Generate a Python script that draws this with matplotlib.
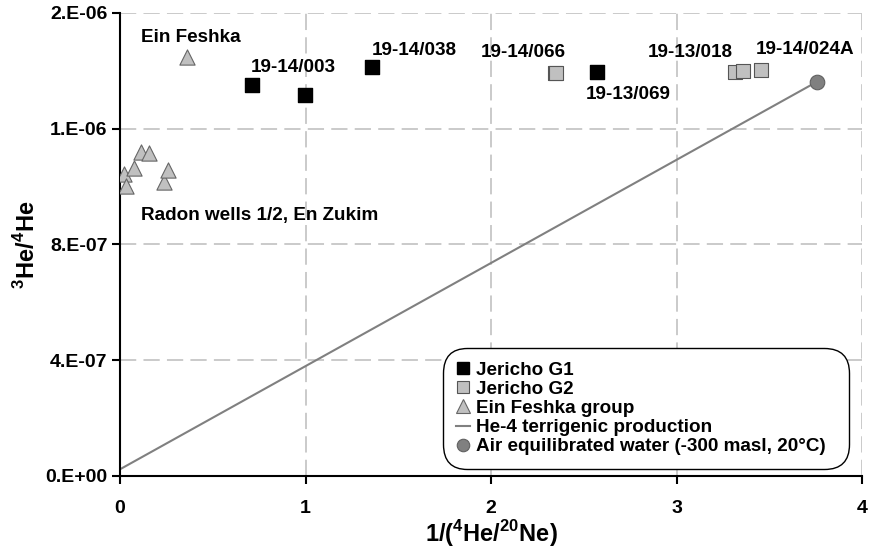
import matplotlib
matplotlib.use("Agg")
import matplotlib.pyplot as plt
from matplotlib.ticker import FuncFormatter, MultipleLocator
from matplotlib.lines import Line2D

plt.rcParams['font.family'] = ['Liberation Sans', 'DejaVu Sans']
plt.rcParams['font.weight'] = 'bold'
plt.rcParams['mathtext.fontset'] = 'custom'
plt.rcParams['mathtext.rm'] = 'Liberation Sans:bold'
plt.rcParams['mathtext.bf'] = 'Liberation Sans:bold'

# Jericho G1 wells
g1_x = [0.713, 0.998, 1.359, 2.568]
g1_y = [1.352e-6, 1.316e-6, 1.411e-6, 1.394e-6]

# Jericho G2 wells
g2_x = [2.343, 2.352, 3.314, 3.355, 3.454]
g2_y = [1.393e-6, 1.393e-6, 1.396e-6, 1.400e-6, 1.401e-6]

# Ein Feshka group springs
ef_x = [0.023, 0.032, 0.077, 0.111, 0.155, 0.239, 0.260, 0.361]
ef_y = [1.043e-6, 1.001e-6, 1.065e-6, 1.118e-6, 1.116e-6, 1.016e-6, 1.057e-6, 1.448e-6]

# Air equilibrated water end-member
aew_x = [3.757]
aew_y = [1.362e-6]

# He-4 terrigenic production line (from origin intercept to AEW)
line_x = [0.0, 3.757]
line_y = [0.023e-6, 1.362e-6]

# Sample labels: (text, x, y) in data coordinates (left edge, baseline)
labels = [
    ("Ein Feshka", 0.113, 1.500e-6),
    ("19-14/003", 0.705, 1.396e-6),
    ("19-14/038", 1.355, 1.454e-6),
    ("19-14/066", 1.945, 1.446e-6),
    ("19-13/069", 2.510, 1.302e-6),
    ("19-13/018", 2.845, 1.446e-6),
    ("19-14/024A", 3.425, 1.456e-6),
    ("Radon wells 1/2, En Zukim", 0.113, 0.884e-6),
]

fig = plt.figure(figsize=(8.69, 5.52), dpi=100)
ax = fig.add_axes([0.138, 0.1377, 0.8543, 0.8393])

ax.set_xlim(0, 4)
ax.set_ylim(0, 1.6e-6)
ax.xaxis.set_major_locator(MultipleLocator(1))
ax.yaxis.set_major_locator(MultipleLocator(0.4e-6))

ax.grid(True, color='#c6c6c6', linestyle=(0, (9, 4)), linewidth=1.3, zorder=0)
ax.set_axisbelow(True)
for s in ['top', 'right']:
    ax.spines[s].set_visible(False)
for s in ['left', 'bottom']:
    ax.spines[s].set_linewidth(1.5)
    ax.spines[s].set_color('black')

def exp_fmt(v, pos):
    s = f"{v:.0E}"
    return s[0] + '.' + s[1:]

ax.yaxis.set_major_formatter(FuncFormatter(exp_fmt))
ax.tick_params(axis='both', direction='out', length=6, width=1.5, labelsize=14)
ax.tick_params(axis='x', pad=11)
ax.tick_params(axis='y', pad=3)

ax.plot(line_x, line_y, color='#808080', linewidth=1.5, zorder=2)
ax.scatter(g1_x, g1_y, marker='s', s=110, color='black', edgecolors='black', zorder=3)
ax.scatter(g2_x, g2_y, marker='s', s=110, color='#c0c0c0', edgecolors='#555555', linewidths=0.8, zorder=3)
ax.scatter(ef_x, ef_y, marker='^', s=120, color='#c0c0c0', edgecolors='#666666', linewidths=0.8, zorder=3)
ax.scatter(aew_x, aew_y, marker='o', s=110, color='#808080', edgecolors='#606060', linewidths=0.8, zorder=4)

for t, x, y in labels:
    ax.text(x, y, t, fontsize=13.6, fontweight='bold', ha='left', va='baseline')

ax.set_xlabel(r'1/($^{4}$He/$^{20}$Ne)', fontsize=17, fontweight='bold', labelpad=1)
ax.set_ylabel(r'$^{3}$He/$^{4}$He', fontsize=17, fontweight='bold', labelpad=4)

handles = [
    Line2D([], [], marker='s', linestyle='none', markersize=9, color='black', markeredgecolor='black'),
    Line2D([], [], marker='s', linestyle='none', markersize=9, color='#c0c0c0', markeredgecolor='#555555', markeredgewidth=0.8),
    Line2D([], [], marker='^', linestyle='none', markersize=10, color='#c0c0c0', markeredgecolor='#666666', markeredgewidth=0.8),
    Line2D([], [], color='#808080', linewidth=1.5),
    Line2D([], [], marker='o', linestyle='none', markersize=9, color='#808080', markeredgecolor='#606060', markeredgewidth=0.8),
]
names = ["Jericho G1", "Jericho G2", "Ein Feshka group", "He-4 terrigenic production",
         "Air equilibrated water (-300 masl, 20°C)  "]
leg = ax.legend(handles, names, loc='lower left', bbox_to_anchor=(0.432, 0.012),
                fontsize=13.6, handlelength=0.75, handletextpad=0.3, labelspacing=0.1,
                borderpad=0.4, borderaxespad=0.4, frameon=True, fancybox=True)
frame = leg.get_frame()
frame.set_edgecolor('black')
frame.set_linewidth(1.0)
frame.set_facecolor('white')
frame.set_alpha(1)
frame.set_boxstyle('round', pad=0.3, rounding_size=1.3)
for t in leg.get_texts():
    t.set_fontweight('bold')

fig.savefig('out.png', dpi=100)
